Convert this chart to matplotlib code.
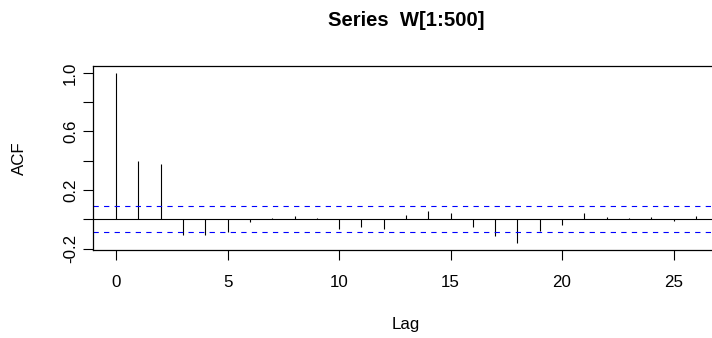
import matplotlib
matplotlib.use("Agg")
import matplotlib.pyplot as plt

# ---- data ----
lags = list(range(27))
acf_values = [1.0, 0.395, 0.377, -0.109, -0.109, -0.086, -0.016, 0.011, 0.023,
              0.011, -0.068, -0.050, -0.064, 0.027, 0.055, 0.045, -0.052,
              -0.116, -0.161, -0.077, -0.041, 0.043, 0.014, 0.011, 0.014,
              -0.009, 0.020]
ci_bound = 0.0877
x_ticks = [0, 5, 10, 15, 20, 25]
y_ticks = [-0.2, 0.0, 0.2, 0.4, 0.6, 0.8, 1.0]
y_tick_labels = ["-0.2", "", "0.2", "", "0.6", "", "1.0"]
title = "Series  W[1:500]"
xlabel = "Lag"
ylabel = "ACF"

plt.rcParams["font.family"] = ["Liberation Sans", "DejaVu Sans"]
plt.rcParams["lines.scale_dashes"] = False

W, H = 712, 338
fig = plt.figure(figsize=(W / 100, H / 100), dpi=100)
left, right, top, bottom = 93, 719, 66, 250
ax = fig.add_axes([left / W, 1 - bottom / H, (right - left) / W, (bottom - top) / H])

ax.vlines(lags, 0, acf_values, colors="black", linewidth=0.8)
ax.axhline(0, color="black", linewidth=0.8)
for b in (ci_bound, -ci_bound):
    ax.axhline(b, color="#0000FF", linewidth=0.8, dashes=(3.8, 3.8))

ax.set_xlim(-1.04, 27.04)
ax.set_ylim(-0.21, 1.0466)
ax.set_xticks(x_ticks)
ax.set_xticklabels([str(t) for t in x_ticks])
ax.set_yticks(y_ticks)
ax.set_yticklabels(y_tick_labels, rotation=90, va="center")

fs = 12.2
ax.tick_params(axis="x", length=7.2, width=0.8, pad=11.0, labelsize=fs)
ax.tick_params(axis="y", length=7.2, width=0.8, pad=3.5, labelsize=fs)
for s in ax.spines.values():
    s.set_linewidth(0.9)

fig.text((left + right) / 2 / W, 1 - 25.7 / H, title, ha="center", va="baseline",
         fontsize=14.6, fontweight="bold")
fig.text((left + right) / 2 / W, 1 - 329.5 / H, xlabel, ha="center", va="baseline",
         fontsize=fs)
fig.text(19.0 / W, 1 - (top + bottom) / 2 / H, ylabel, ha="center", va="center",
         rotation=90, fontsize=fs)

fig.savefig("out.png", dpi=100)
